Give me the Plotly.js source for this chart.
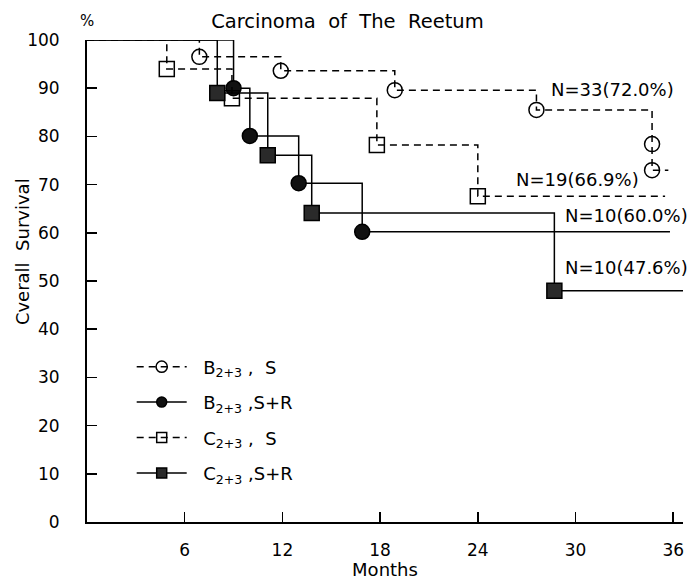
<!DOCTYPE html>
<html>
<head>
<meta charset="utf-8">
<script src="https://cdn.plot.ly/plotly-3.0.1.min.js"></script>
<style>html,body{margin:0;padding:0;background:#fff;}#chart{width:688px;height:580px;}</style>
</head>
<body>
<div id="chart"></div>
<script>
// ---- data ----
const xTicks = [6, 12, 18, 24, 30, 36];
const yTicks = [0, 10, 20, 30, 40, 50, 60, 70, 80, 90, 100];

const seriesNames = ["\u00a0\u00a0B<sub>2+3</sub> ,  S", "\u00a0\u00a0B<sub>2+3</sub> ,S+R", "\u00a0\u00a0C<sub>2+3</sub> ,  S", "\u00a0\u00a0C<sub>2+3</sub> ,S+R"];

// B2+3, S  (dashed, open circles)
const bsTimes = [6.9, 11.9, 18.9, 27.6, 34.7, 34.7];
const bsSurv  = [96.5, 93.6, 89.6, 85.5, 78.4, 73.0];
const bsEnd   = 35.7;

// B2+3, S+R (solid, filled circles)
const bsrTimes = [9.0, 10.0, 13.0, 16.9];
const bsrSurv  = [90.0, 80.1, 70.3, 60.2];
const bsrEnd   = 35.8;

// C2+3, S (dashed, open squares)
const csTimes = [4.9, 8.9, 17.8, 24.0];
const csSurv  = [94.0, 87.9, 78.2, 67.6];
const csEnd   = 35.5;

// C2+3, S+R (solid, hatched squares)
const csrTimes = [8.0, 11.1, 13.8, 28.7];
const csrSurv  = [89.0, 76.1, 64.1, 48.0];
const csrEnd   = 36.6;

const endLabels = ["N=33(72.0%)", "N=19(66.9%)", "N=10(60.0%)", "N=10(47.6%)"];

// ---- build step curves ----
function km(times, surv, end, name, dash, symbol, fill) {
  const x = [0].concat(times, [end]);
  const y = [100].concat(surv, [surv[surv.length - 1]]);
  const sizes = x.map((_, i) => (i === 0 || i === x.length - 1) ? 0 : 15);
  return {
    x: x, y: y, name: name, type: 'scatter', mode: 'lines+markers',
    line: {shape: 'hv', color: '#000', width: 1.5, dash: dash},
    marker: {symbol: symbol, size: sizes, color: fill, opacity: 1, line: {color: '#000', width: 1.5}},
    cliponaxis: false, legendgroup: name
  };
}

const traces = [
  km(bsTimes, bsSurv, bsEnd, seriesNames[0], '7px,5px', 'circle-open', '#000'),
  km(bsrTimes, bsrSurv, bsrEnd, seriesNames[1], 'solid', 'circle', '#111'),
  km(csTimes, csSurv, csEnd, seriesNames[2], '7px,5px', 'square-open', '#000'),
  km(csrTimes, csrSurv, csrEnd, seriesNames[3], 'solid', 'square', '#2a2a2a')
];

const F = 'DejaVu Sans, Liberation Sans, Arial, sans-serif';
const labelPos = [[28.4, 89.8], [26.2, 71.0], [29.2, 63.5], [29.2, 52.9]];
const annotations = endLabels.map((t, i) => ({
  text: t, x: labelPos[i][0], y: labelPos[i][1], xref: 'x', yref: 'y',
  xanchor: 'left', yanchor: 'middle', showarrow: false,
  font: {family: F, size: 18, color: '#000'}
}));
annotations.push({text: '%', xref: 'paper', yref: 'paper', x: 0, y: 1.04,
  xanchor: 'center', yanchor: 'middle', showarrow: false, font: {family: F, size: 15, color: '#000'}});
annotations.push({text: 'Cverall\u00a0 Survival', xref: 'paper', yref: 'paper', x: -0.109, y: 0.56,
  xanchor: 'center', yanchor: 'middle', textangle: -90, showarrow: false,
  font: {family: F, size: 18, color: '#000'}});

const layout = {
  width: 688, height: 580,
  margin: {l: 87, r: 5, t: 40, b: 58},
  paper_bgcolor: '#fff', plot_bgcolor: '#fff',
  font: {family: F, size: 17, color: '#000'},
  title: {text: 'Carcinoma\u00a0 of\u00a0 The\u00a0 Reetum', x: 0.505, xref: 'container', y: 0.964, yref: 'container',
          xanchor: 'center', yanchor: 'middle', font: {family: F, size: 19.5, color: '#000'}},
  xaxis: {range: [0, 36.6], tickvals: xTicks, ticktext: xTicks.map(String), ticks: 'inside', ticklen: 10,
          tickwidth: 1.5, tickcolor: '#000', showline: true, linewidth: 2, linecolor: '#000',
          showgrid: false, zeroline: false, ticklabelstandoff: 12,
          title: {text: 'Months', standoff: 4, font: {family: F, size: 18}}},
  yaxis: {range: [0, 100], tickvals: yTicks, ticktext: yTicks.map(String), ticks: 'inside', ticklen: 10,
          tickwidth: 1.5, tickcolor: '#000', showline: true, linewidth: 2, linecolor: '#000',
          showgrid: false, zeroline: false, ticklabelstandoff: 22},
  showlegend: true,
  legend: {x: 0.075, y: 0.36, xanchor: 'left', yanchor: 'top', bgcolor: 'rgba(0,0,0,0)',
           itemwidth: 50, tracegroupgap: 9, traceorder: 'grouped',
           font: {family: F, size: 18, color: '#000'}},
  annotations: annotations
};

Plotly.newPlot('chart', traces, layout, {displayModeBar: false, staticPlot: true});
</script>
</body>
</html>
